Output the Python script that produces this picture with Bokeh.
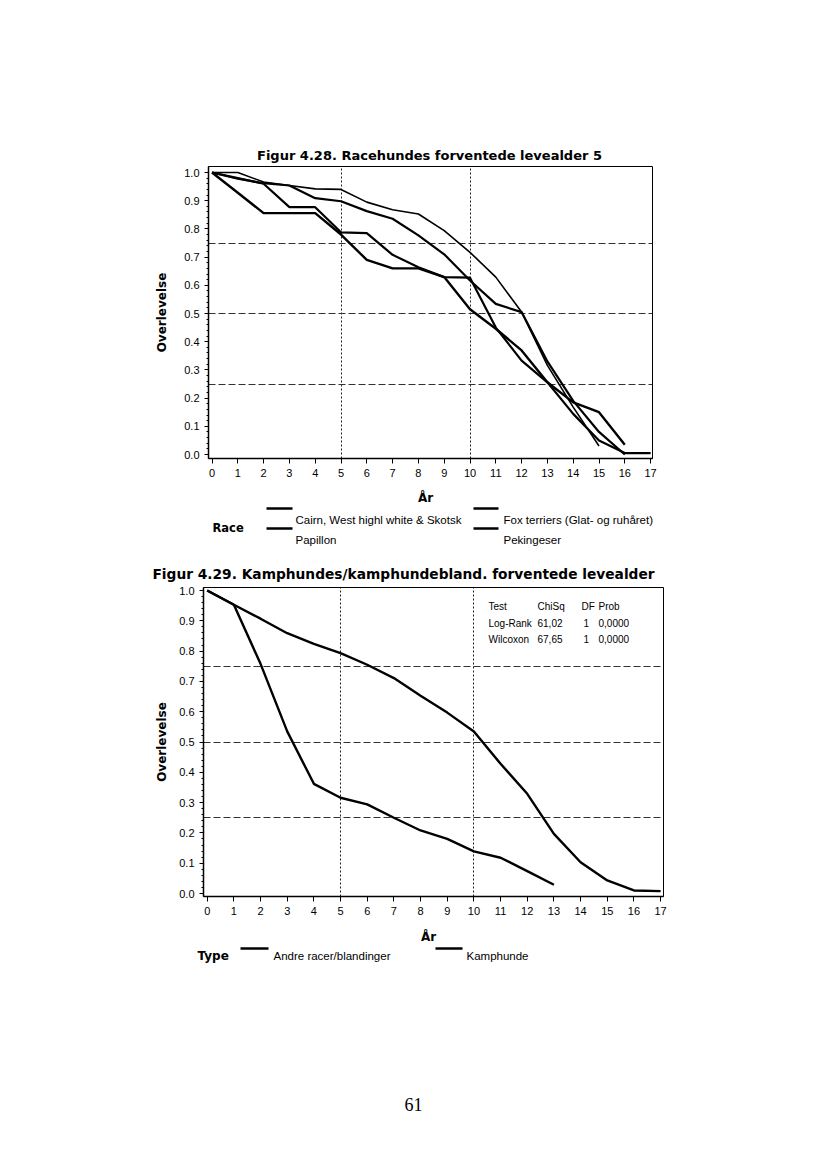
from bokeh.plotting import figure
from bokeh.models import Range1d, FixedTicker, Label, PrintfTickFormatter
from bokeh.layouts import column
from bokeh.embed import file_html
from bokeh.resources import INLINE

# ---------------- data ----------------
years = list(range(18))

# Figur 4.28 (survival by year)
cairn = [1.0, 1.0, 0.966, 0.954, 0.942, 0.94, 0.895, 0.868, 0.853, 0.794, 0.717, 0.629, 0.505, 0.316, 0.168, 0.03]
fox = [1.0, 0.978, 0.962, 0.954, 0.909, 0.898, 0.863, 0.836, 0.777, 0.71, 0.617, 0.534, 0.505, 0.33, 0.19, 0.08, 0.0]
papillon = [1.0, 0.98, 0.96, 0.877, 0.877, 0.788, 0.785, 0.708, 0.664, 0.629, 0.627, 0.45, 0.333, 0.256, 0.144, 0.05, 0.005, 0.005]
pekingeser = [1.0, 0.928, 0.856, 0.856, 0.856, 0.78, 0.69, 0.66, 0.66, 0.629, 0.515, 0.446, 0.369, 0.256, 0.185, 0.15, 0.035]
race_names = ["Cairn, West highl white & Skotsk", "Fox terriers (Glat- og ruhåret)", "Papillon", "Pekingeser"]

# Figur 4.29
andre = [1.0, 0.953, 0.907, 0.859, 0.824, 0.793, 0.755, 0.711, 0.653, 0.597, 0.535, 0.428, 0.329, 0.197, 0.103, 0.043, 0.01, 0.008]
kamphunde = [1.0, 0.953, 0.758, 0.535, 0.362, 0.316, 0.294, 0.25, 0.208, 0.18, 0.139, 0.118, 0.074, 0.029]
type_names = ["Andre racer/blandinger", "Kamphunde"]

test_header = ["Test", "ChiSq", "DF", "Prob"]
test_logrank = ["Log-Rank", "61,02", "1", "0,0000"]
test_wilcoxon = ["Wilcoxon", "67,65", "1", "0,0000"]

y_ticks = [0.0, 0.1, 0.2, 0.3, 0.4, 0.5, 0.6, 0.7, 0.8, 0.9, 1.0]
y_minor = [i / 50 for i in range(51)]
ref_y = [0.25, 0.5, 0.75]
ref_x = [5, 10]

title1 = "Figur 4.28. Racehundes forventede levealder 5"
title2 = "Figur 4.29. Kamphundes/kamphundebland. forventede levealder"
xlabel = "År"
ylabel = "Overlevelse"
page_no = "61"

BOLD_FONT = "DejaVu Sans"
FONT = "Liberation Sans"
W = 810


def chart(height, page_top, frame, x0px, ppx, y0px, ppy, ylab_standoff):
    fl, fr, ft, fb = frame
    p = figure(width=W, height=height, output_backend="svg", toolbar_location=None, title=None,
               frame_align=False,
               x_range=Range1d((fl - x0px) / ppx, (fr - x0px) / ppx),
               y_range=Range1d((y0px - fb) / ppy, (y0px - ft) / ppy),
               min_border_left=fl, min_border_right=W - fr,
               min_border_top=ft - page_top, min_border_bottom=page_top + height - fb)
    p.background_fill_color = "white"
    p.border_fill_color = "white"
    p.outline_line_color = "black"
    p.outline_line_width = 1

    for ax in (p.xaxis[0], p.yaxis[0]):
        ax.axis_line_color = "black"
        ax.axis_line_width = 1.5
        ax.major_tick_line_color = "black"
        ax.major_tick_in = 0
        ax.major_label_text_font = FONT
        ax.major_label_text_font_size = "11px"
        ax.major_label_text_color = "black"
    p.xaxis.ticker = FixedTicker(ticks=years)
    p.xaxis.major_tick_out = 5
    p.xaxis.major_label_standoff = 5
    p.xaxis.minor_tick_line_color = None
    p.yaxis.ticker = FixedTicker(ticks=y_ticks, minor_ticks=y_minor)
    p.yaxis.formatter = PrintfTickFormatter(format="%.1f")
    p.yaxis.major_tick_out = 4
    p.yaxis.major_label_standoff = 5
    p.yaxis.minor_tick_out = 2
    p.yaxis.minor_tick_in = 0
    p.yaxis.minor_tick_line_color = "black"
    p.yaxis.axis_label = ylabel
    p.yaxis.axis_label_text_font = BOLD_FONT
    p.yaxis.axis_label_text_font_style = "bold"
    p.yaxis.axis_label_text_font_size = "12px"
    p.yaxis.axis_label_text_color = "black"
    p.yaxis.axis_label_standoff = ylab_standoff

    p.xgrid.ticker = FixedTicker(ticks=ref_x)
    p.xgrid.grid_line_color = "#222222"
    p.xgrid.grid_line_dash = "2 2"
    p.xgrid.grid_line_width = 1
    p.ygrid.ticker = FixedTicker(ticks=ref_y)
    p.ygrid.grid_line_color = "#333333"
    p.ygrid.grid_line_dash = "7 3"
    p.ygrid.grid_line_width = 1
    return p


def blank(height, page_top):
    # a text/legend strip whose coordinates are page pixels (y downwards)
    p = figure(width=W, height=height, output_backend="svg", toolbar_location=None, title=None,
               frame_align=False,
               x_range=Range1d(0, W), y_range=Range1d(page_top + height, page_top),
               x_axis_type=None, y_axis_type=None, min_border=0)
    p.background_fill_color = "white"
    p.border_fill_color = "white"
    p.outline_line_color = None
    p.grid.visible = False
    return p


def lab(p, px, py, text, size, font=FONT, bold=False, align="left"):
    p.add_layout(Label(x=px, y=py, text=text, text_font=font, text_font_size=f"{size}px",
                       text_font_style="bold" if bold else "normal", text_align=align,
                       text_baseline="alphabetic", text_color="black"))


def sample(p, x1, x2, py):
    p.line([x1, x2], [py, py], line_color="black", line_width=2.5)


# ---------------- strip above figure 4.28 ----------------
T1 = blank(163, 0)
lab(T1, 429, 155, title1, 13, font=BOLD_FONT, bold=True, align="center")

# ---------------- figure 4.28 ----------------
M1 = chart(323, 163, (208, 652, 166, 458), 211.5, 25.8, 454, 282, 12)
M1.line(years[:len(cairn)], cairn, line_color="black", line_width=1.6)
M1.line(years[:len(fox)], fox, line_color="black", line_width=2.2)
M1.line(years[:len(papillon)], papillon, line_color="black", line_width=2.2)
M1.line(years[:len(pekingeser)], pekingeser, line_color="black", line_width=2.4)

# ---------------- strip: x label + legend 4.28 + title 4.29 ----------------
L1 = blank(97, 486)
lab(L1, 425, 497, xlabel, 12, font=BOLD_FONT, bold=True, align="center")
lab(L1, 212, 527, "Race", 11.5, font=BOLD_FONT, bold=True)
sample(L1, 266, 292, 508)
sample(L1, 473, 498, 508)
sample(L1, 266, 292, 528)
sample(L1, 473, 498, 528)
lab(L1, 295, 519, race_names[0], 11.5)
lab(L1, 503, 519, race_names[1], 11.5)
lab(L1, 295, 539, race_names[2], 11.5)
lab(L1, 503, 539, race_names[3], 11.5)
lab(L1, 403, 573, title2, 13.75, font=BOLD_FONT, bold=True, align="center")

# ---------------- figure 4.29 ----------------
M2 = chart(341, 583, (203, 663, 587, 896), 206.7, 26.67, 893, 303, 7)
M2.line(years[:len(andre)], andre, line_color="black", line_width=2.4)
M2.line(years[:len(kamphunde)], kamphunde, line_color="black", line_width=2.4)
# statistics table inside the plot (data coordinates from page pixels)
sx = lambda px: (px - 206.7) / 26.67
sy = lambda py: (893 - py) / 303
col_x = [488, 537, 581, 598]
for row, base in ((test_header, 605.5), (test_logrank, 622.5), (test_wilcoxon, 638.5)):
    for i, (cx, t) in enumerate(zip(col_x, row)):
        if i == 2 and t == "1":
            cx += 2
        M2.add_layout(Label(x=sx(cx), y=sy(base), text=t, text_font=FONT, text_font_size="10px",
                            text_baseline="alphabetic", text_color="black"))

# ---------------- strip: x label + legend 4.29 + page number ----------------
L2 = blank(236, 924)
lab(L2, 428, 936, xlabel, 12, font=BOLD_FONT, bold=True, align="center")
lab(L2, 197, 955, "Type", 12, font=BOLD_FONT, bold=True)
sample(L2, 240, 268, 948)
sample(L2, 435, 462, 948)
lab(L2, 273, 955, type_names[0], 11.5)
lab(L2, 466, 955, type_names[1], 11.5)
lab(L2, 413, 1104, page_no, 18, font="Liberation Serif", align="center")

layout = column(T1, M1, L1, M2, L2, spacing=0)
open("out.html", "w").write(file_html(layout, INLINE))
